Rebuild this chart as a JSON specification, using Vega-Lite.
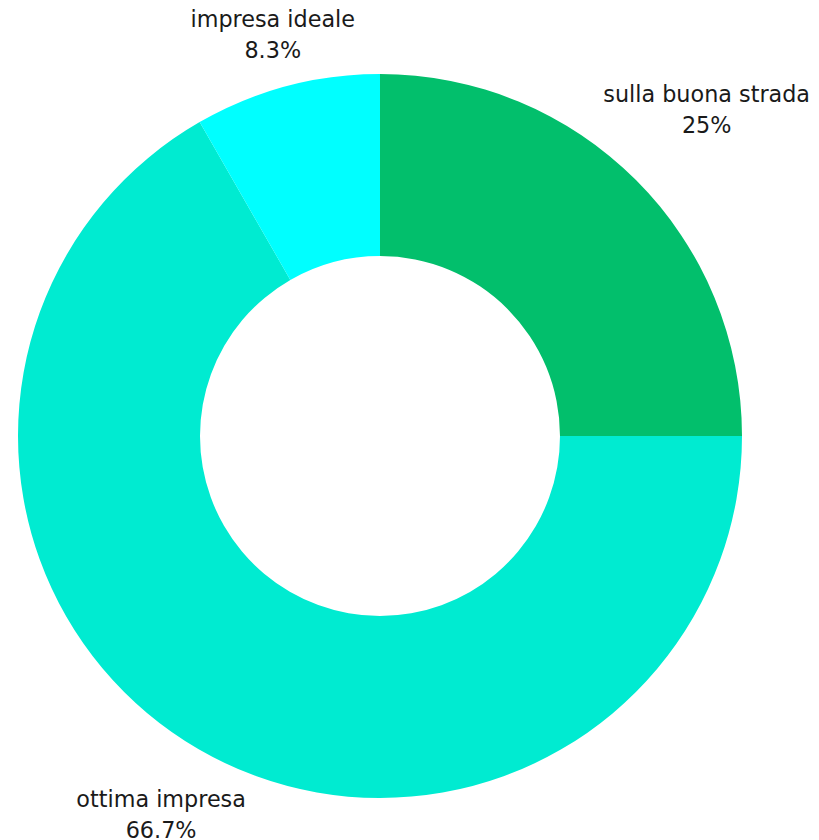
{
  "$schema": "https://vega.github.io/schema/vega-lite/v6.json",
  "width": 760,
  "height": 800,
  "autosize": "none",
  "padding": {"top": 36, "left": 0, "right": 59, "bottom": 4},
  "background": "white",
  "view": {"stroke": null},
  "data": {
    "values": [
      {"cat": "sulla buona strada", "value": 25, "order": 1, "label": "sulla buona strada\n25%"},
      {"cat": "ottima impresa", "value": 66.7, "order": 2, "label": "ottima impresa\n66.7%"},
      {"cat": "impresa ideale", "value": 8.3, "order": 3, "label": "impresa ideale\n8.3%"}
    ]
  },
  "encoding": {
    "theta": {"field": "value", "type": "quantitative", "stack": true},
    "order": {"field": "order", "type": "quantitative"}
  },
  "layer": [
    {
      "mark": {"type": "arc", "outerRadius": 362, "innerRadius": 180},
      "encoding": {
        "color": {
          "field": "cat",
          "type": "nominal",
          "scale": {
            "domain": ["sulla buona strada", "ottima impresa", "impresa ideale"],
            "range": ["#02BF6C", "#00EBD1", "#00FFFF"]
          },
          "legend": null
        }
      }
    },
    {
      "mark": {"type": "text", "radius": 462, "dy": -14, "fontSize": 22.3, "font": "DejaVu Sans", "lineBreak": "\n", "lineHeight": 31, "color": "#1a1a1a", "align": "center", "baseline": "middle"},
      "encoding": {
        "text": {"condition": {"test": "datum.cat === 'sulla buona strada'", "field": "label"}, "value": ""}
      }
    },
    {
      "mark": {"type": "text", "radius": 437, "dy": -14, "fontSize": 22.3, "font": "DejaVu Sans", "lineBreak": "\n", "lineHeight": 31, "color": "#1a1a1a", "align": "center", "baseline": "middle"},
      "encoding": {
        "text": {"condition": {"test": "datum.cat === 'ottima impresa'", "field": "label"}, "value": ""}
      }
    },
    {
      "mark": {"type": "text", "radius": 416, "dy": -14, "fontSize": 22.3, "font": "DejaVu Sans", "lineBreak": "\n", "lineHeight": 31, "color": "#1a1a1a", "align": "center", "baseline": "middle"},
      "encoding": {
        "text": {"condition": {"test": "datum.cat === 'impresa ideale'", "field": "label"}, "value": ""}
      }
    }
  ]
}
